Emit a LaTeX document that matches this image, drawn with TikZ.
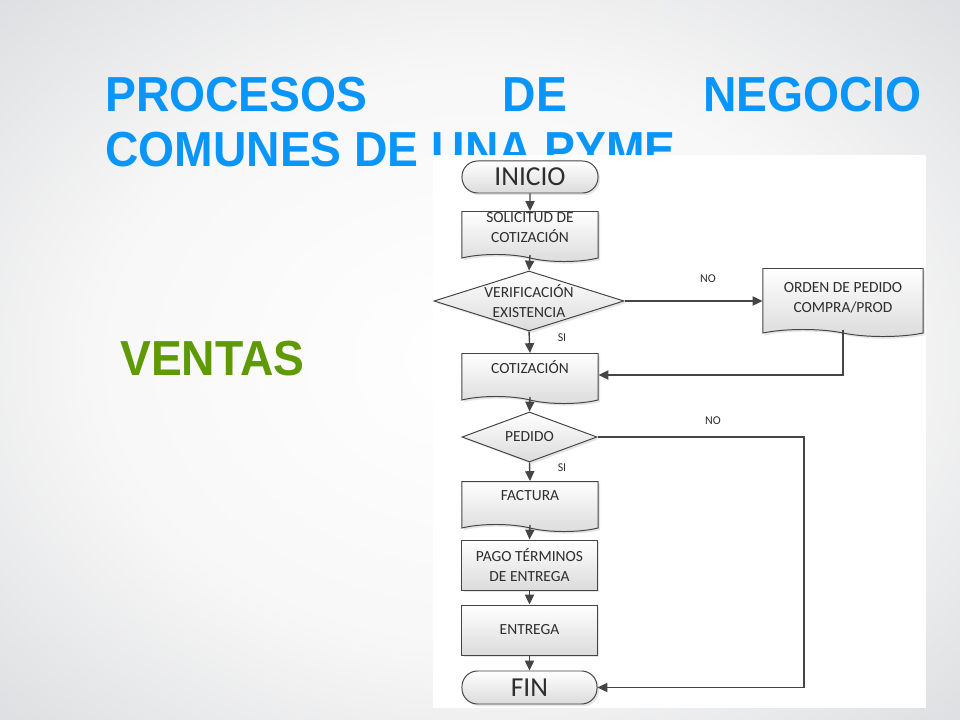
\documentclass[tikz,border=0pt]{standalone}
\usepackage{fontspec}
\setmainfont{Carlito}
\newfontfamily\titlefont[FakeStretch=0.94]{Liberation Sans}
\usetikzlibrary{arrows.meta,positioning,shapes.geometric,shapes.symbols,shadows}

\definecolor{titleblue}{HTML}{0A96F8}
\definecolor{ventasgreen}{HTML}{5F9A05}
\definecolor{linegray}{HTML}{454545}
\definecolor{edgegray}{HTML}{989BA2}
\definecolor{midgray}{HTML}{C6C8CD}

\pgfdeclareradialshading{slide}{\pgfpoint{0bp}{0bp}}{color(0bp)=(white); color(20bp)=(white!97!black); color(50bp)=(midgray); color(71bp)=(edgegray)}

\begin{document}
\begin{tikzpicture}[x=0.025cm, y=-0.025cm,
    >={Triangle[length=7pt,width=6.5pt]},
    every node/.append style={align=center, text=black!82},
    box/.style={draw=linegray, line width=0.7pt, top color=white, bottom color=black!14,
      minimum width=3.4cm, minimum height=1.25cm, inner sep=0pt,
      font=\fontsize{11}{14}\selectfont,
      drop shadow={shadow xshift=1.5pt, shadow yshift=-1.5pt, opacity=.2}},
    doc/.style={box, tape, tape bend top=none, tape bend bottom=out and in,
      tape bend height=5pt, text depth=#1},
    doc/.default=8pt,
    term/.style={box, rounded corners=0.39cm, minimum height=0.8cm,
      font=\fontsize{19.5}{20}\selectfont},
    dec/.style={box, diamond, minimum width=3.375cm, minimum height=1.25cm},
    flow/.style={draw=linegray, line width=1pt},
    lbl/.style={font=\fontsize{8.5}{9}\selectfont, inner sep=0pt},
    title/.style={font=\titlefont\bfseries\fontsize{35}{40}\selectfont, inner sep=0pt, anchor=base west}]

  % slide background
  \useasboundingbox (0,0) rectangle (960,720);
  \shade[shading=slide] (0,0) rectangle (960,720);

  % titles
  \node[title, text=titleblue] (t1) at (105,112) {PROCESOS};
  \node[title, text=titleblue, anchor=base] (t2) at (535,112) {DE};
  \node[title, text=titleblue, anchor=base east] (t3) at (922,112) {NEGOCIO};
  \node[title, text=titleblue] (t4) at (105,167) {COMUNES DE UNA PYME};
  \node[title, text=ventasgreen] (vt) at (120,376) {VENTAS};

  % white panel
  \fill[white] (433,155) rectangle (926,708);

  % flowchart
  \node[term] (ini) at (530,177) {INICIO};
  \node[doc] (sol) at (530,233) {SOLICITUD DE\\COTIZACIÓN};
  \node[dec, minimum width=4.75cm, minimum height=1.5cm,
    label={[font=\fontsize{11}{14}\selectfont]center:VERIFICACIÓN\\EXISTENCIA}] (ver) at (529,301) {};
  \node[doc=2pt, minimum width=4cm, minimum height=1.7cm] (ord) at (843,299) {ORDEN DE PEDIDO\\COMPRA/PROD};
  \node[doc=12pt] (cot) at (530,375) {COTIZACIÓN};
  \node[dec, label={[font=\fontsize{11}{14}\selectfont]center:PEDIDO}] (ped) at (529.5,437) {};
  \node[doc=11pt] (fac) at (530,503) {FACTURA};
  \node[box, minimum width=3.375cm] (pag) at (529.5,565) {PAGO TÉRMINOS\\DE ENTREGA};
  \node[box, minimum width=3.375cm] (ent) at (529.5,630) {ENTREGA};
  \node[term, minimum width=3.375cm, minimum height=0.825cm] (fin) at (529.5,687.5) {FIN};
  \coordinate (turn) at (804,437);

  \node[lbl] (no1) at (708,279) {NO};
  \node[lbl] (si1) at (562,338) {SI};
  \node[lbl] (no2) at (713,421) {NO};
  \node[lbl] (si2) at (562,468) {SI};

  \draw[flow,->] (ini) -- (sol);
  \draw[flow,->] (sol.south) -- (ver.north);
  \draw[flow,->] (ver.east) -- (ver.east -| ord.west);
  \draw[flow,->] (ver.south) -- (cot.north);
  \draw[flow,->] (ord.south) |- (cot.east);
  \draw[flow,->] (cot.south) -- (ped.north);
  \draw[flow,->] (ped.east) -- (turn) |- (fin.east);
  \draw[flow,->] (ped.south) -- (fac.north);
  \draw[flow,->] (fac.south) -- (pag.north);
  \draw[flow,->] (pag) -- (ent);
  \draw[flow,->] (ent) -- (fin);
\end{tikzpicture}
\end{document}
